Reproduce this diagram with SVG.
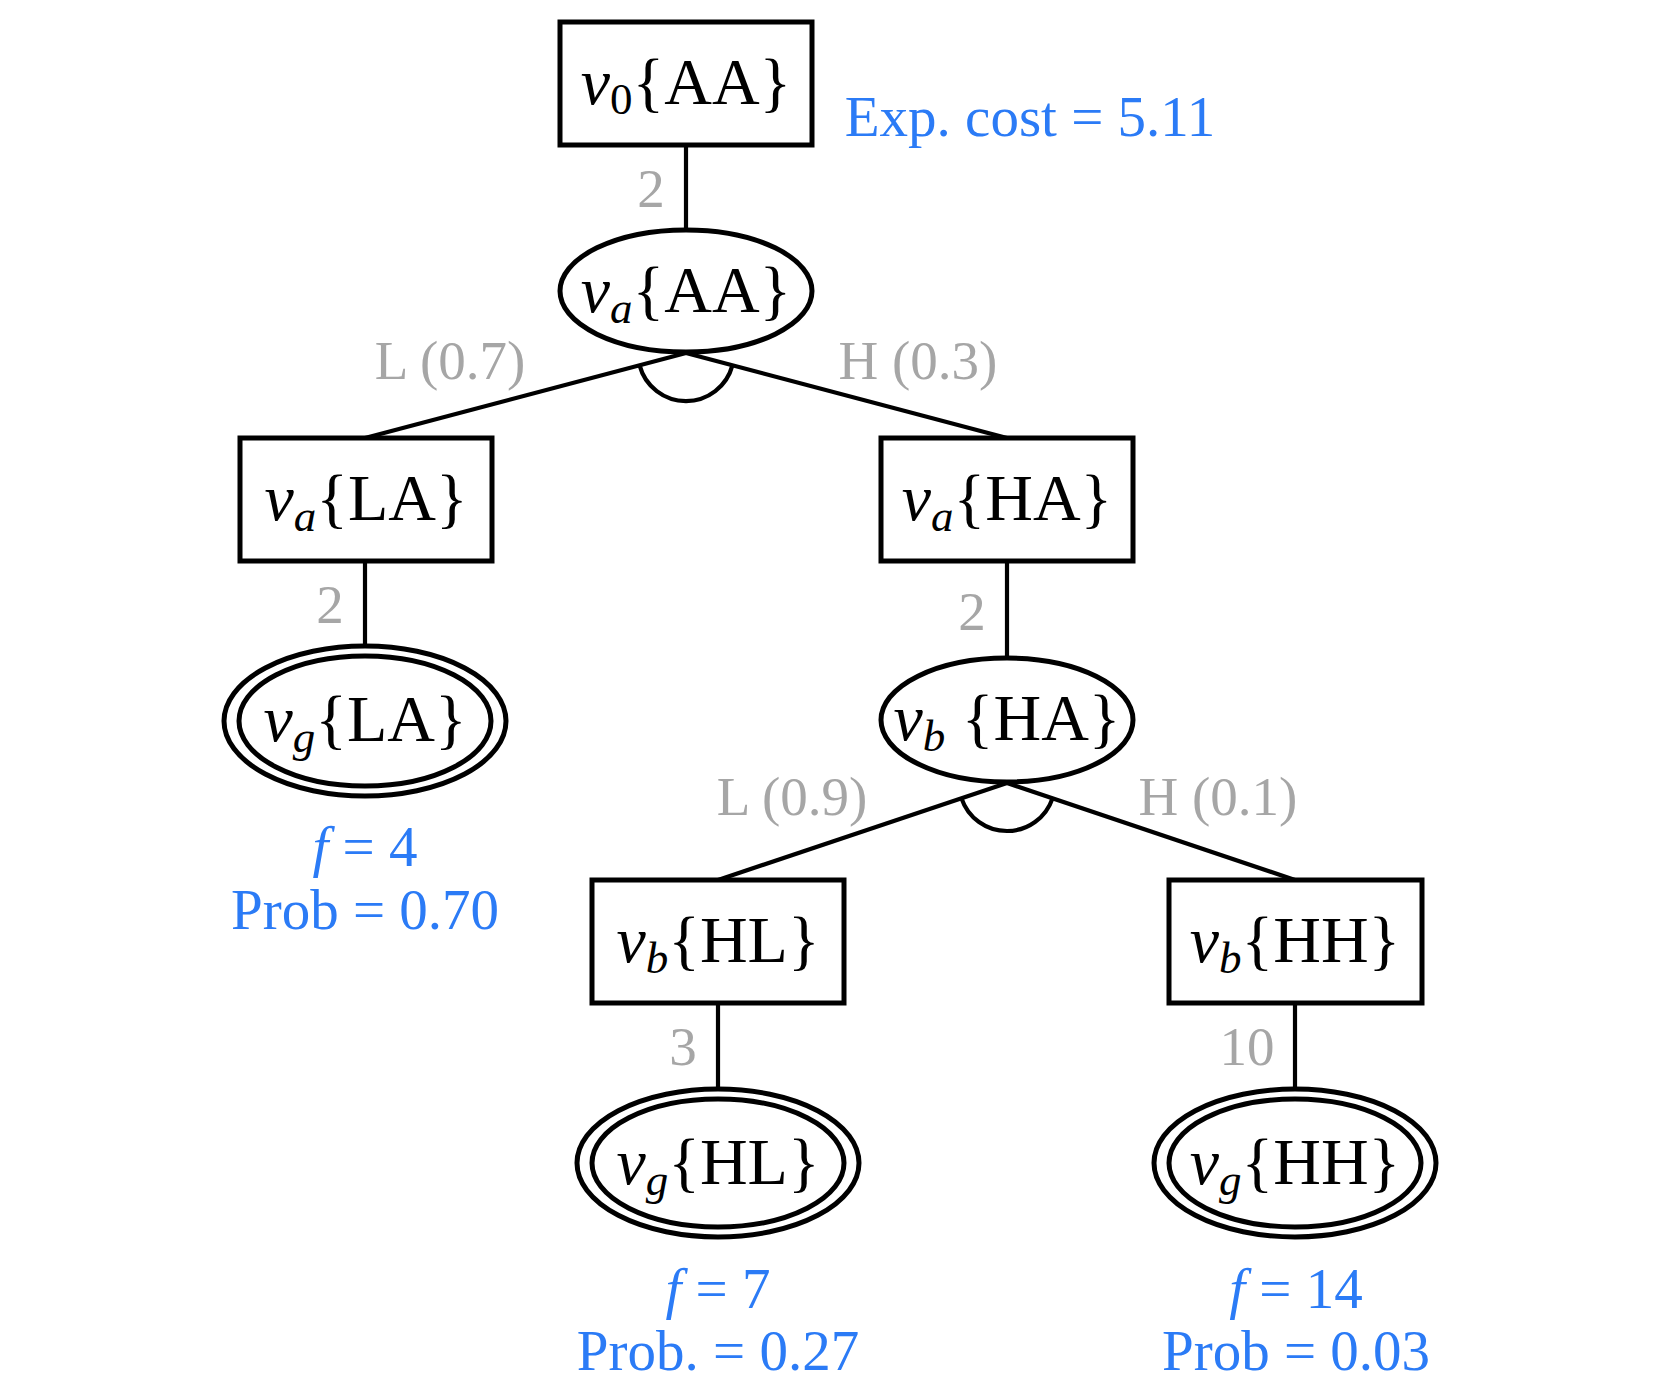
<svg xmlns="http://www.w3.org/2000/svg" width="1661" height="1390" viewBox="0 0 1661 1390">
<style>
.box{fill:#fff;stroke:#000;stroke-width:5}
.ell{fill:#fff;stroke:#000;stroke-width:5}
.edge{fill:none;stroke:#000;stroke-width:4.2}
.n{font-family:"Liberation Serif","Times New Roman",serif;font-size:66px;fill:#000;text-anchor:middle}
.it{font-style:italic}
.sub{font-size:45px}
.g{font-family:"Liberation Serif","Times New Roman",serif;font-size:55px;fill:#a6a6a6;text-anchor:middle}
.b{font-family:"Liberation Serif","Times New Roman",serif;font-size:57px;fill:#2b7bf6;text-anchor:middle}
</style>
<rect width="1661" height="1390" fill="#fff"/>
<g id="connectors">
<line class="edge" x1="686" y1="145" x2="686" y2="229"/>
<line class="edge" x1="686" y1="353" x2="365" y2="438"/>
<line class="edge" x1="686" y1="353" x2="1007" y2="438"/>
<path class="edge" d="M639.6,365.4 A48,48 0 0 0 732.4,365.4"/>
<line class="edge" x1="365" y1="562" x2="365" y2="646"/>
<line class="edge" x1="1007" y1="562" x2="1007" y2="658"/>
<line class="edge" x1="1007" y1="783" x2="718" y2="880"/>
<line class="edge" x1="1007" y1="783" x2="1295" y2="880"/>
<path class="edge" d="M961.5,798.3 A48,48 0 0 0 1052.5,798.3"/>
<line class="edge" x1="718" y1="1004" x2="718" y2="1089"/>
<line class="edge" x1="1295" y1="1004" x2="1295" y2="1089"/>
</g>
<g id="edge-labels">
<text class="g" x="651" y="207">2</text>
<text class="g" x="450" y="379">L (0.7)</text>
<text class="g" x="918" y="379">H (0.3)</text>
<text class="g" x="330" y="623">2</text>
<text class="g" x="972" y="630">2</text>
<text class="g" x="792" y="815">L (0.9)</text>
<text class="g" x="1218" y="815">H (0.1)</text>
<text class="g" x="683" y="1065">3</text>
<text class="g" x="1247" y="1065">10</text>
</g>
<g id="n-v0AA">
<rect class="box" x="560" y="22" width="252" height="123"/>
<text class="n" x="686" y="104"><tspan class="it">v</tspan><tspan class="sub" dy="10">0</tspan><tspan dy="-10">{AA}</tspan></text>
</g>
<g id="exp-cost">
<text class="b" x="1030" y="136">Exp. cost = 5.11</text>
</g>
<g id="n-vaAA">
<ellipse class="ell" cx="686" cy="291" rx="126" ry="61"/>
<text class="n" x="686" y="312"><tspan class="it">v</tspan><tspan class="sub it" dy="11">a</tspan><tspan dy="-11">{AA}</tspan></text>
</g>
<g id="n-vaLA">
<rect class="box" x="240" y="438" width="252" height="123"/>
<text class="n" x="366" y="520"><tspan class="it">v</tspan><tspan class="sub it" dy="11">a</tspan><tspan dy="-11">{LA}</tspan></text>
</g>
<g id="n-vaHA">
<rect class="box" x="881" y="438" width="252" height="123"/>
<text class="n" x="1007" y="520"><tspan class="it">v</tspan><tspan class="sub it" dy="11">a</tspan><tspan dy="-11">{HA}</tspan></text>
</g>
<g id="n-vgLA">
<ellipse class="ell" cx="365" cy="721" rx="141" ry="75"/>
<ellipse class="ell" cx="365" cy="721" rx="126" ry="65"/>
<text class="n" x="365" y="741"><tspan class="it">v</tspan><tspan class="sub it" dy="11">g</tspan><tspan dy="-11">{LA}</tspan></text>
</g>
<g id="f-LA">
<text class="b" x="365" y="866"><tspan class="it">f</tspan> = 4</text>
<text class="b" x="365" y="929">Prob = 0.70</text>
</g>
<g id="n-vbHA">
<ellipse class="ell" cx="1007" cy="720" rx="126" ry="62"/>
<text class="n" x="1007" y="740"><tspan class="it">v</tspan><tspan class="sub it" dy="11">b</tspan><tspan dy="-11"> {HA}</tspan></text>
</g>
<g id="n-vbHL">
<rect class="box" x="592" y="880" width="252" height="123"/>
<text class="n" x="718" y="962"><tspan class="it">v</tspan><tspan class="sub it" dy="11">b</tspan><tspan dy="-11">{HL}</tspan></text>
</g>
<g id="n-vbHH">
<rect class="box" x="1169" y="880" width="253" height="123"/>
<text class="n" x="1295" y="962"><tspan class="it">v</tspan><tspan class="sub it" dy="11">b</tspan><tspan dy="-11">{HH}</tspan></text>
</g>
<g id="n-vgHL">
<ellipse class="ell" cx="718" cy="1163" rx="141" ry="74"/>
<ellipse class="ell" cx="718" cy="1163" rx="126" ry="64"/>
<text class="n" x="718" y="1184"><tspan class="it">v</tspan><tspan class="sub it" dy="11">g</tspan><tspan dy="-11">{HL}</tspan></text>
</g>
<g id="f-HL">
<text class="b" x="718" y="1308"><tspan class="it">f</tspan> = 7</text>
<text class="b" x="718" y="1370">Prob. = 0.27</text>
</g>
<g id="n-vgHH">
<ellipse class="ell" cx="1295" cy="1163" rx="141" ry="74"/>
<ellipse class="ell" cx="1295" cy="1163" rx="126" ry="64"/>
<text class="n" x="1295" y="1184"><tspan class="it">v</tspan><tspan class="sub it" dy="11">g</tspan><tspan dy="-11">{HH}</tspan></text>
</g>
<g id="f-HH">
<text class="b" x="1296" y="1308"><tspan class="it">f</tspan> = 14</text>
<text class="b" x="1296" y="1370">Prob = 0.03</text>
</g>
</svg>
